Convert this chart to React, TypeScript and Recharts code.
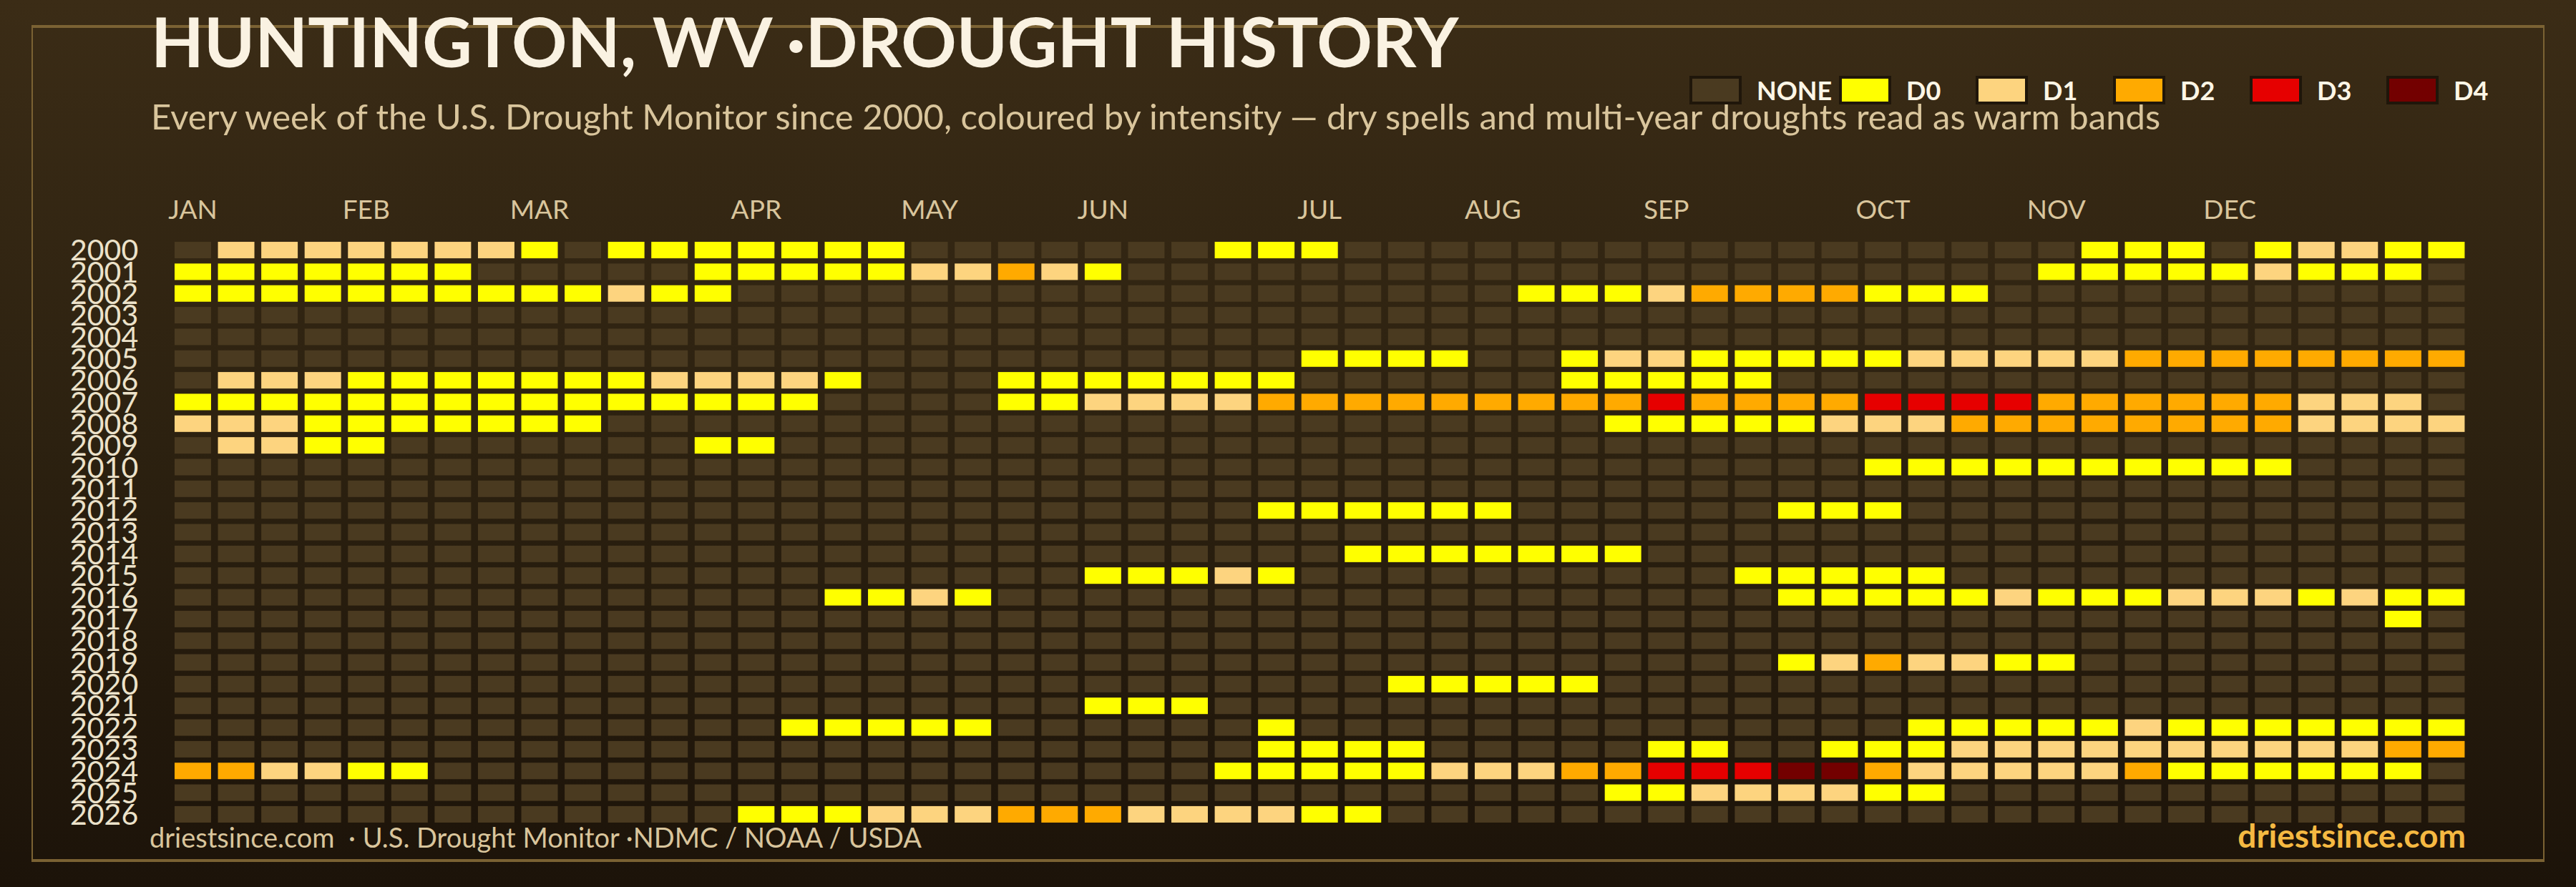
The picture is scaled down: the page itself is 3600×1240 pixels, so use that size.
import { Scatter, ScatterChart, XAxis, YAxis } from "recharts";

const years = [
  2000, 2001, 2002, 2003, 2004, 2005, 2006, 2007, 2008, 2009, 2010, 2011, 2012, 2013,
  2014, 2015, 2016, 2017, 2018, 2019, 2020, 2021, 2022, 2023, 2024, 2025, 2026,
];
const levelNames = ["NONE", "D0", "D1", "D2", "D3", "D4"];
const levelColors = ["#4a3a20", "#ffff00", "#fdd47f", "#ffaa00", "#e60000", "#730000"];
const monthNames = ["JAN", "FEB", "MAR", "APR", "MAY", "JUN", "JUL", "AUG", "SEP", "OCT", "NOV", "DEC"];
const monthWeeks = [0, 4, 8, 13, 17, 21, 26, 30, 34, 39, 43, 47];

// one string per year, one digit per weekly map (0 = none, 1..5 = D0..D4), in groups of ten weeks
const weeklyLevels = [
  "0222222210 1111111000 0000111000 0000000000 0000111012 211", // 2000
  "1111111000 0011111223 2100000000 0000000000 0001111121 110", // 2001
  "1111111111 2110000000 0000000000 0111233331 1100000000 000", // 2002
  "0000000000 0000000000 0000000000 0000000000 0000000000 000", // 2003
  "0000000000 0000000000 0000000000 0000000000 0000000000 000", // 2004
  "0000000000 0000000000 0000001111 0012211111 2222233333 333", // 2005
  "0222111111 1222210001 1111110000 0011111000 0000000000 000", // 2006
  "1111111111 1111100001 1222233333 3333433334 4443333332 220", // 2007
  "2221111111 0000000000 0000000000 0001111122 2333333332 222", // 2008
  "0221100000 0011000000 0000000000 0000000000 0000000000 000", // 2009
  "0000000000 0000000000 0000000000 0000000001 1111111110 000", // 2010
  "0000000000 0000000000 0000000000 0000000000 0000000000 000", // 2011
  "0000000000 0000000000 0000011111 1000000111 0000000000 000", // 2012
  "0000000000 0000000000 0000000000 0000000000 0000000000 000", // 2013
  "0000000000 0000000000 0000000111 1111000000 0000000000 000", // 2014
  "0000000000 0000000000 0111210000 0000001111 1000000000 000", // 2015
  "0000000000 0000011210 0000000000 0000000111 1121112221 211", // 2016
  "0000000000 0000000000 0000000000 0000000000 0000000000 010", // 2017
  "0000000000 0000000000 0000000000 0000000000 0000000000 000", // 2018
  "0000000000 0000000000 0000000000 0000000123 2211000000 000", // 2019
  "0000000000 0000000000 0000000011 1110000000 0000000000 000", // 2020
  "0000000000 0000000000 0111000000 0000000000 0000000000 000", // 2021
  "0000000000 0000111110 0000010000 0000000000 1111121111 111", // 2022
  "0000000000 0000000000 0000011110 0000110011 1222222222 233", // 2023
  "3322110000 0000000000 0000111112 2233444553 2222231111 110", // 2024
  "0000000000 0000000000 0000000000 0001122221 1000000000 000", // 2025
  "0000000000 0001112223 3322221100 0000000000 0000000000 000", // 2026
];

const cells = years.flatMap((year, row) =>
  weeklyLevels[row]
    .replace(/ /g, "")
    .split("")
    .map((code, week) => ({ year, week, level: Number(code) }))
);

const PLOT = { left: 239.2, right: 3449.2, top: 334.4, bottom: 1153.6 };
const FONT = "Lato, 'DejaVu Sans', sans-serif";
const TAN = "#d9c59c";

function WeekCell(props: any) {
  const { cx, cy, payload } = props;
  const w = (PLOT.right - PLOT.left) / 53 - 9.6;
  const h = (PLOT.bottom - PLOT.top) / 27 - 7.3;
  return <rect x={cx - w / 2} y={cy - h / 2} width={w} height={h} fill={levelColors[payload.level]} />;
}

function MonthTick(props: any) {
  const { x, payload } = props;
  return (
    <text x={x} y={PLOT.top - 28} textAnchor="middle" fill={TAN} fontSize={37} fontFamily={FONT}>
      {monthNames[monthWeeks.indexOf(payload.value)]}
    </text>
  );
}

function YearTick(props: any) {
  const { y, payload } = props;
  return (
    <text x={PLOT.left - 46} y={y} dy="0.36em" textAnchor="end" fill="#ece2ca" fontSize={41} fontFamily={FONT}>
      {payload.value}
    </text>
  );
}

function DroughtLegend() {
  const widths = [209, 191, 192, 191, 191, 150];
  return (
    <div style={{ position: "absolute", left: 2361, top: 104, display: "flex" }}>
      {levelNames.map((name, i) => (
        <div key={name} style={{ width: widths[i], display: "flex", alignItems: "center" }}>
          <div
            style={{
              width: 73,
              height: 40,
              boxSizing: "border-box",
              border: "4px solid #1f160a",
              background: levelColors[i],
            }}
          />
          <span style={{ marginLeft: 21, color: "#fdf6e6", fontWeight: 700, fontSize: 36, fontFamily: FONT }}>
            {name}
          </span>
        </div>
      ))}
    </div>
  );
}

export default function App() {
  return (
    <div
      style={{
        position: "relative",
        width: 3600,
        height: 1240,
        overflow: "hidden",
        background: "linear-gradient(180deg, #3b2c16 0%, #2c2110 50%, #1c1309 100%)",
        fontFamily: FONT,
      }}
    >
      <style>{"body{margin:0}"}</style>
      <div
        style={{
          position: "absolute",
          left: 44,
          top: 35,
          width: 3512,
          height: 1170,
          boxSizing: "border-box",
          borderTop: "4px solid #7b6233",
          borderBottom: "4px solid #7b6233",
          borderLeft: "2px solid #7b6233",
          borderRight: "2px solid #7b6233",
        }}
      />
      <div
        style={{
          position: "absolute",
          left: 211,
          top: 105 - 96,
          height: 96,
          lineHeight: "96px",
          fontSize: 96,
          fontWeight: 700,
          color: "#faf2e2",
          whiteSpace: "nowrap",
        }}
      >
        HUNTINGTON, WV ·DROUGHT HISTORY
      </div>
      <div
        style={{
          position: "absolute",
          left: 211,
          top: 133,
          fontSize: 49,
          lineHeight: "58px",
          color: TAN,
          whiteSpace: "nowrap",
        }}
      >
        Every week of the U.S. Drought Monitor since 2000, coloured by intensity — dry spells and multi-year droughts read as warm bands
      </div>
      <DroughtLegend />
      <div style={{ position: "absolute", left: 0, top: 0 }}>
        <ScatterChart
          width={3600}
          height={1240}
          margin={{ left: PLOT.left - 100, right: 3600 - PLOT.right, top: PLOT.top - 60, bottom: 1240 - PLOT.bottom }}
        >
          <XAxis
            type="number"
            dataKey="week"
            domain={[-0.5, 52.5]}
            orientation="top"
            ticks={monthWeeks}
            interval={0}
            height={60}
            axisLine={false}
            tickLine={false}
            tick={<MonthTick />}
          />
          <YAxis
            type="number"
            dataKey="year"
            domain={[1999.5, 2026.5]}
            reversed
            ticks={years}
            interval={0}
            width={100}
            axisLine={false}
            tickLine={false}
            tick={<YearTick />}
          />
          <Scatter data={cells} shape={<WeekCell />} isAnimationActive={false} />
        </ScatterChart>
      </div>
      <div
        style={{
          position: "absolute",
          left: 209,
          top: 1147,
          fontSize: 38,
          lineHeight: "46px",
          color: TAN,
          whiteSpace: "nowrap",
        }}
      >
        driestsince.com &nbsp;· U.S. Drought Monitor ·NDMC / NOAA / USDA
      </div>
      <div
        style={{
          position: "absolute",
          right: 3600 - 3446,
          top: 1142,
          fontSize: 46,
          lineHeight: "52px",
          fontWeight: 700,
          color: "#f5b942",
          whiteSpace: "nowrap",
        }}
      >
        driestsince.com
      </div>
    </div>
  );
}
